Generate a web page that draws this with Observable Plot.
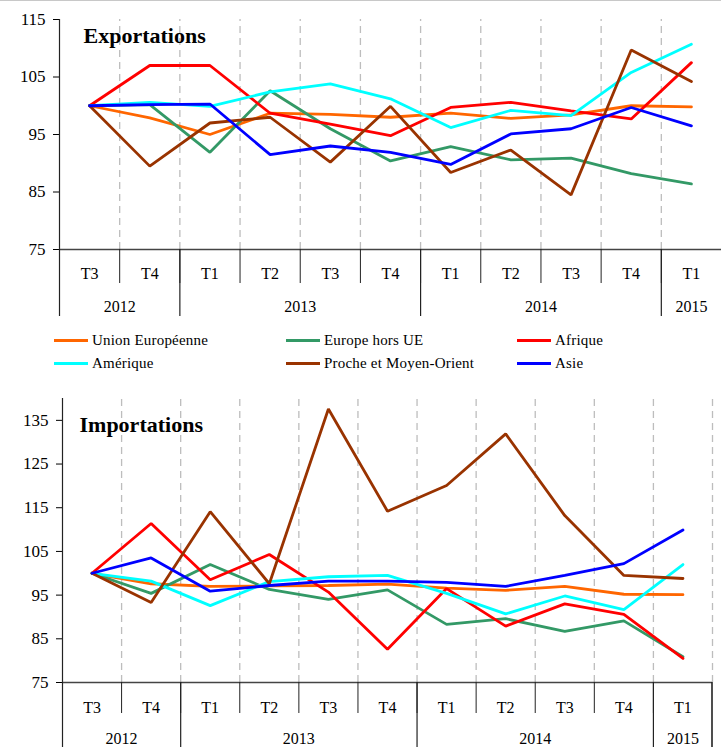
<!DOCTYPE html>
<html><head><meta charset="utf-8">
<script src="https://cdn.jsdelivr.net/npm/d3@7"></script>
<script src="https://cdn.jsdelivr.net/npm/@observablehq/plot@0.6"></script>
<style>
body{margin:0;background:#fff;font-family:"Liberation Serif","Times New Roman",serif;}
#page{position:relative;width:721px;height:747px;overflow:hidden;border-top:1px solid #c8c8c8;box-sizing:border-box;}
#top{position:absolute;left:0;top:0;}
#legend{position:absolute;left:0;top:320px;width:721px;height:58px;}
#bottom{position:absolute;left:0;top:378px;}
.item{position:absolute;font-size:15px;line-height:16px;color:#000;white-space:nowrap;letter-spacing:0.2px;}
.sw{display:inline-block;width:34px;height:3px;vertical-align:middle;margin-right:4px;position:relative;top:-1px;}
</style></head><body>
<div id="page"><div id="top"></div><div id="legend"></div><div id="bottom"></div></div>
<script>
const quarters = ["T3","T4","T1","T2","T3","T4","T1","T2","T3","T4","T1"];
const years = ["2012","2013","2014","2015"];
const yearQuarterCounts = [2,4,4,1];
const series = ["Union Européenne","Europe hors UE","Afrique","Amérique","Proche et Moyen-Orient","Asie"];
const colors = ["#FF6600","#339966","#FF0000","#00FFFF","#993300","#0000FF"];

// Exportations
const expUE      = [100, 97.9, 95.0, 98.7, 98.5, 98.0, 98.7, 97.8, 98.4, 100.0, 99.8];
const expHorsUE  = [100, 100.2, 91.9, 102.6, 96.0, 90.4, 92.9, 90.6, 90.9, 88.2, 86.4];
const expAfrique = [100, 107.0, 107.0, 98.7, 96.8, 94.8, 99.7, 100.6, 99.1, 97.7, 107.5];
const expAmerique= [100, 100.6, 99.9, 102.4, 103.8, 101.2, 96.2, 99.2, 98.3, 105.8, 110.7];
const expPMO     = [100, 89.5, 97.0, 98.0, 90.2, 99.9, 88.4, 92.3, 84.5, 109.7, 104.2];
const expAsie    = [100, 100.2, 100.3, 91.5, 93.0, 91.9, 89.8, 95.1, 96.0, 99.7, 96.5];

// Importations
const impUE      = [100, 97.6, 97.0, 97.1, 97.2, 97.5, 96.6, 96.1, 97.0, 95.2, 95.1];
const impHorsUE  = [100, 95.4, 102.0, 96.3, 94.0, 96.2, 88.3, 89.6, 86.7, 89.1, 80.9];
const impAfrique = [100, 111.4, 98.5, 104.3, 95.7, 82.6, 96.5, 87.9, 93.0, 90.6, 80.5];
const impAmerique= [100, 98.2, 92.6, 98.1, 99.2, 99.5, 95.4, 90.7, 94.8, 91.7, 102.0];
const impPMO     = [100, 93.3, 114.1, 97.6, 137.6, 114.2, 120.1, 131.9, 113.2, 99.5, 98.8];
const impAsie    = [100, 103.5, 95.9, 97.2, 98.2, 98.2, 97.9, 97.0, 99.5, 102.2, 109.9];

const expTicks = [75, 85, 95, 105, 115];
const impTicks = [75, 85, 95, 105, 115, 125, 135];

function makeChart(o) {
  const rows = [];
  series.forEach((s, k) => o.data[k].forEach((v, i) => rows.push({s, i, v})));
  const n = quarters.length;
  const end = n - 0.5;
  const allB = d3.range(n).map(i => i - 0.5);
  let acc = -0.5;
  const yearB = [-0.5], yearMid = [];
  yearQuarterCounts.forEach((c, k) => { yearMid.push({y: years[k], x: acc + c / 2}); acc += c; if (acc < end) yearB.push(acc); });
  const qRows = quarters.map((q, i) => ({q, i}));
  const y0 = o.yDomain[0], y1 = o.yDomain[1];
  const pxPerUnit = (o.height - o.marginTop - o.marginBottom) / (y1 - y0);
  const yBottom = y0 - o.ySep / pxPerUnit;
  const marks = [
    Plot.ruleX(o.gridB, {y1: y0, y2: y1, stroke: "#bdbdbd", strokeWidth: 1.3, strokeDasharray: "7,5"}),
    Plot.ruleX([-0.5], {y1: y0, y2: y1, stroke: "#222", strokeWidth: 1.2}),
    Plot.ruleY([y0], {stroke: "#444", strokeWidth: 1.5}),
    Plot.axisX({ticks: allB, tickSize: o.qSep, tickFormat: () => "", stroke: "#222"}),
    Plot.axisX({ticks: yearB, tickSize: o.ySep, tickFormat: () => "", stroke: "#222", strokeWidth: 1.2}),
    Plot.text(qRows, {x: "i", text: "q", frameAnchor: "bottom", dy: o.qDy, fontSize: 16, lineAnchor: "middle"}),
    Plot.text(yearMid, {x: "x", text: "y", frameAnchor: "bottom", dy: o.yDy, fontSize: 16, lineAnchor: "middle"}),
    Plot.lineY(rows, {x: "i", y: "v", z: "s", stroke: "s", strokeWidth: 2.8, strokeLinejoin: "miter"}),
    Plot.text([o.title], {frameAnchor: "top-left", dx: o.titleDx, dy: o.titleDy, textAnchor: "start", lineAnchor: "middle", fontWeight: "bold", fontSize: 22})
  ];
  if (o.rightEdge) {
    marks.push(Plot.ruleX([end], {y1: y0, y2: yBottom, stroke: "#222", strokeWidth: 1.6, dx: -0.5}));
  }
  return Plot.plot({
    width: o.width, height: o.height,
    marginLeft: o.marginLeft, marginRight: o.marginRight, marginTop: o.marginTop, marginBottom: o.marginBottom,
    style: {fontFamily: "'Liberation Serif','Times New Roman',serif", fontSize: "17px", color: "#000", background: "#fff", overflow: "visible"},
    x: {domain: [-0.5, end], axis: null},
    y: {domain: o.yDomain, ticks: o.yTicks, tickSize: 6, tickPadding: 8, label: null, tickFormat: d3.format("d")},
    color: {domain: series, range: colors},
    marks
  });
}

document.getElementById("top").append(makeChart({
  title: "Exportations",
  data: [expUE, expHorsUE, expAfrique, expAmerique, expPMO, expAsie],
  yDomain: [75, 115], yTicks: expTicks,
  width: 721, height: 320, marginLeft: 59, marginRight: 0, marginTop: 18, marginBottom: 72,
  gridB: d3.range(10).map(i => i + 0.5), rightEdge: false,
  qSep: 34, ySep: 67, qDy: 24, yDy: 57, titleDx: 24, titleDy: 16
}));

document.getElementById("bottom").append(makeChart({
  title: "Importations",
  data: [impUE, impHorsUE, impAfrique, impAmerique, impPMO, impAsie],
  yDomain: [75, 140], yTicks: impTicks,
  width: 721, height: 369, marginLeft: 62, marginRight: 9, marginTop: 19, marginBottom: 66,
  gridB: d3.range(11).map(i => i + 0.5), rightEdge: true,
  qSep: 31, ySep: 66, qDy: 25, yDy: 56, titleDx: 17, titleDy: 26
}));

const legend = document.getElementById("legend");
const colX = [54, 286, 517];
const rowY = [11, 34];
series.forEach((s, k) => {
  const d = document.createElement("div");
  d.className = "item";
  d.style.left = colX[k % 3] + "px";
  d.style.top = rowY[Math.floor(k / 3)] + "px";
  const sw = document.createElement("span");
  sw.className = "sw";
  sw.style.background = colors[k];
  d.append(sw, document.createTextNode(s));
  legend.append(d);
});
</script>
</body></html>
